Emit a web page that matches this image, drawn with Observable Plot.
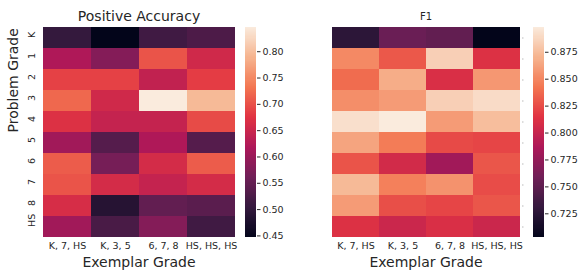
<!DOCTYPE html>
<html>
<head>
<meta charset="utf-8">
<script src="https://cdn.jsdelivr.net/npm/d3@7"></script>
<script src="https://cdn.jsdelivr.net/npm/@observablehq/plot@0.6"></script>
<style>
  body { margin: 0; background: #fff; }
  #wrap { position: relative; width: 579px; height: 271px; background: #fff; font-family: "DejaVu Sans", sans-serif; color: #262626; }
  #wrap > svg, #wrap > figure { position: absolute; top: 0; margin: 0; }
</style>
</head>
<body>
<div id="wrap"></div>
<script>
// ---- data ----
const problemGrades = ["K", "1", "2", "3", "4", "5", "6", "7", "8", "HS"];
const exemplarGrades = ["K, 7, HS", "K, 3, 5", "6, 7, 8", "HS, HS, HS"];

const posAccuracy = [
  [0.503, 0.447, 0.515, 0.527],
  [0.620, 0.580, 0.703, 0.655],
  [0.687, 0.687, 0.640, 0.683],
  [0.720, 0.655, 0.846, 0.795],
  [0.670, 0.643, 0.643, 0.695],
  [0.607, 0.535, 0.620, 0.535],
  [0.710, 0.567, 0.660, 0.710],
  [0.703, 0.660, 0.643, 0.660],
  [0.663, 0.487, 0.547, 0.540],
  [0.607, 0.523, 0.580, 0.515]
];
const f1Values = [
  [0.726, 0.756, 0.752, 0.703],
  [0.851, 0.830, 0.884, 0.812],
  [0.838, 0.867, 0.810, 0.857],
  [0.853, 0.859, 0.884, 0.890],
  [0.892, 0.898, 0.859, 0.875],
  [0.863, 0.845, 0.824, 0.822],
  [0.828, 0.806, 0.781, 0.829],
  [0.873, 0.847, 0.855, 0.825],
  [0.859, 0.826, 0.822, 0.829],
  [0.812, 0.802, 0.810, 0.802]
];
const accDomain = [0.447, 0.846];
const f1Domain = [0.703, 0.898];
const accTicks = [0.45, 0.50, 0.55, 0.60, 0.65, 0.70, 0.75, 0.80];
const f1Ticks = [0.725, 0.750, 0.775, 0.800, 0.825, 0.850, 0.875];

// seaborn "rocket" approximation
const rocketStops = ["#03051a", "#35193e", "#701f57", "#ad1759", "#e13342", "#f37651", "#f6b48f", "#faebdd"];
const rocket = d3.piecewise(d3.interpolateRgb, rocketStops);

function toTable(values) {
  const out = [];
  problemGrades.forEach((r, i) => exemplarGrades.forEach((c, j) => out.push({row: r, col: c, value: values[i][j]})));
  return out;
}

const wrap = document.getElementById("wrap");
const ink = "#262626";

function heatmap(values, domain, title, titleSize, showY, left, width, mLeft, mRight) {
  const marks = [
    Plot.cell(toTable(values), {x: "col", y: "row", fill: "value", inset: 0, shapeRendering: "crispEdges"}),
    Plot.axisX({tickSize: 0, tickPadding: 5, fontSize: 9.5, label: null}),
    Plot.text([title], {frameAnchor: "top", dy: -11, fontSize: titleSize, lineAnchor: "middle", fill: ink}),
    Plot.text(["Exemplar Grade"], {frameAnchor: "bottom", dy: 25, fontSize: 14, lineAnchor: "middle", fill: ink})
  ];
  if (showY) {
    marks.push(Plot.text(problemGrades, {y: d => d, frameAnchor: "left", dx: -11, rotate: -90, fontSize: 9.5, lineAnchor: "middle", fill: ink}));
    marks.push(Plot.text(["Problem Grade"], {frameAnchor: "left", dx: -29, rotate: -90, fontSize: 14, lineAnchor: "middle", fill: ink}));
  } else {
    marks.push(Plot.axisY({anchor: "right", tickSize: 1.5, tickFormat: () => "", stroke: "#bbb", label: null}));
  }
  const svg = Plot.plot({
    width, height: 271,
    marginLeft: mLeft, marginRight: mRight, marginTop: 27, marginBottom: 34,
    style: {fontFamily: "DejaVu Sans, sans-serif", color: ink, background: "transparent"},
    x: {domain: exemplarGrades, padding: 0, label: null},
    y: {domain: problemGrades, padding: 0, label: null, axis: null},
    color: {type: "linear", domain, interpolate: rocket},
    marks
  });
  svg.style.left = left + "px";
  wrap.appendChild(svg);
}

function colorbar(domain, ticks, fmt, left, barWidth) {
  const n = 200;
  const steps = d3.range(n).map(i => ({
    lo: domain[0] + (domain[1] - domain[0]) * i / n,
    hi: domain[0] + (domain[1] - domain[0]) * (i + 1.02) / n
  }));
  const width = 50;
  const svg = Plot.plot({
    width, height: 271,
    marginLeft: 0, marginRight: width - barWidth, marginTop: 27, marginBottom: 34,
    style: {fontFamily: "DejaVu Sans, sans-serif", color: ink, background: "transparent"},
    x: {domain: [0, 1], axis: null},
    y: {domain, axis: null},
    color: {type: "linear", domain, interpolate: rocket},
    marks: [
      Plot.rect(steps, {x1: 0, x2: 1, y1: "lo", y2: "hi", fill: d => (d.lo + d.hi) / 2, shapeRendering: "crispEdges"}),
      Plot.axisY({anchor: "right", ticks, tickFormat: fmt, tickSize: 3.5, tickPadding: 2.5, fontSize: 9.5, label: null})
    ]
  });
  svg.style.left = left + "px";
  wrap.appendChild(svg);
}

heatmap(posAccuracy, accDomain, "Positive Accuracy", 14, true, 0, 245, 42, 10);
colorbar(accDomain, accTicks, d3.format(".2f"), 245, 11);
heatmap(f1Values, f1Domain, "F1", 10, false, 290, 243, 40, 12);
colorbar(f1Domain, f1Ticks, d3.format(".3f"), 533, 11);
</script>
</body>
</html>
